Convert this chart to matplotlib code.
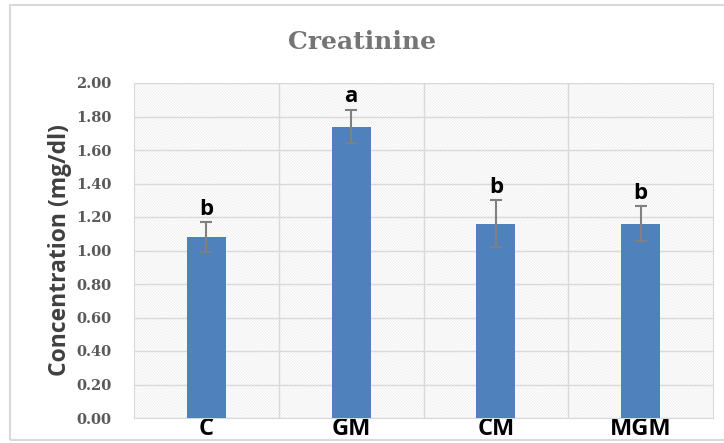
import matplotlib.pyplot as plt
from matplotlib.patches import Rectangle

groups = ['C', 'GM', 'CM', 'MGM']
means = [1.08, 1.74, 1.16, 1.16]
errors = [0.09, 0.10, 0.14, 0.105]
letters = ['b', 'a', 'b', 'b']
yticks = [0.0, 0.2, 0.4, 0.6, 0.8, 1.0, 1.2, 1.4, 1.6, 1.8, 2.0]

plt.rcParams['hatch.linewidth'] = 0.35
plt.rcParams['hatch.color'] = '#e2e2e2'

fig = plt.figure(figsize=(7.24, 4.43), dpi=100)
ax = fig.add_axes([134/724, 25/443, 579/724, 335/443])

# figure border
fig.patches.append(Rectangle((10/724, 3/443), 0.99, 435/443, transform=fig.transFigure,
                             fill=False, edgecolor='#d9d9d9', lw=1.5))

# hatched plot area
ax.add_patch(Rectangle((0, 0), 1, 1, transform=ax.transAxes, facecolor='white',
                       edgecolor='#e2e2e2', hatch='\\' * 12, lw=0, zorder=0))

x = list(range(len(groups)))
ax.bar(x, means, width=0.27, color='#4f81bd', zorder=3)
ax.errorbar(x, means, yerr=errors, fmt='none', ecolor='#808080', elinewidth=1.5,
            capsize=4, capthick=1.5, zorder=4)

for xi, m, e, l in zip(x, means, errors, letters):
    ax.text(xi, m + e + 0.015, l, ha='center', va='bottom', fontsize=16,
            fontweight='bold', family='Open Sans', color='black', zorder=5)

ax.set_xlim(-0.5, len(groups) - 0.5)
ax.set_ylim(0, 2.0)
ax.set_yticks(yticks)
ax.set_yticklabels([f'{t:.2f}' for t in yticks], family='DejaVu Serif',
                   fontsize=10.5, fontweight='bold', color='#595959')
ax.set_xticks(x)
ax.set_xticklabels(groups, family='Open Sans', fontsize=17, fontweight='bold', color='black')
ax.set_xticks([0.5, 1.5, 2.5], minor=True)
ax.tick_params(axis='both', which='both', length=0)
ax.tick_params(axis='x', pad=-1)
ax.tick_params(axis='y', pad=16)

ax.grid(axis='y', which='major', color='#d9d9d9', lw=1, zorder=1)
ax.grid(axis='x', which='minor', color='#d9d9d9', lw=1, zorder=1)
ax.set_axisbelow(True)
for s in ax.spines.values():
    s.set_color('#d9d9d9')
    s.set_linewidth(0.8)

ax.set_ylabel('Concentration (mg/dl)', family='Open Sans', fontsize=16.5,
              fontweight='bold', color='#404040', labelpad=3)
fig.text(362/724, 1 - 42/443, 'Creatinine', ha='center', va='center',
         family='DejaVu Serif', fontsize=18, fontweight='bold', color='#757575')

fig.savefig('out.png', dpi=100)
